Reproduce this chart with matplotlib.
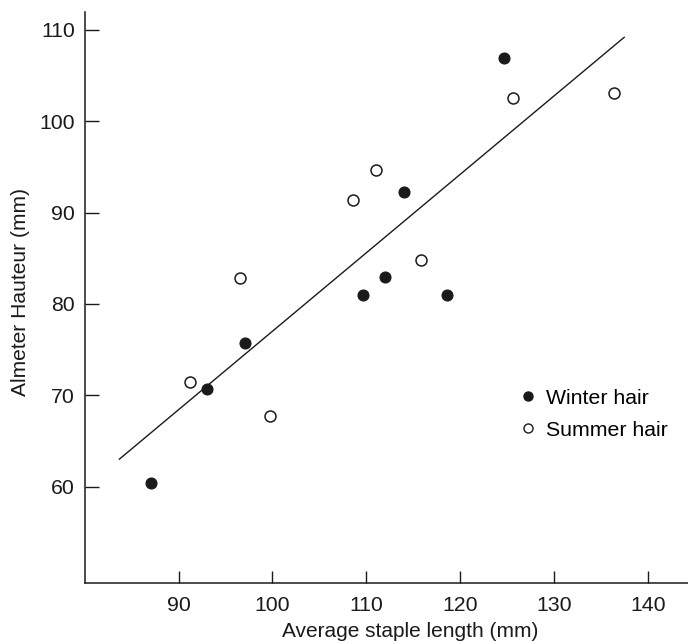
import matplotlib
matplotlib.use("Agg")
import matplotlib.pyplot as plt
from matplotlib.lines import Line2D

plt.rcParams['font.family'] = ['Liberation Sans', 'DejaVu Sans']

winter_x = [87.1, 93.0, 97.1, 109.7, 112.0, 118.6, 114.0, 124.7]
winter_y = [60.4, 70.7, 75.7, 81.0, 82.9, 81.0, 92.3, 106.9]
summer_x = [91.2, 99.7, 96.6, 108.6, 111.1, 115.8, 125.6, 136.4]
summer_y = [71.4, 67.7, 82.8, 91.4, 94.7, 84.8, 102.6, 103.1]
line_x = [83.7, 137.5]
line_y = [63.0, 109.2]
xticks = [90, 100, 110, 120, 130, 140]
yticks = [60, 70, 80, 90, 100, 110]

ink = '#1a1a1a'
fs = 15.3
fig = plt.figure(figsize=(6.88, 6.41), dpi=100)
ax = fig.add_axes([0.1231, 0.09, 0.8769, 0.8917])
ax.set_xlim(80, 144.3)
ax.set_ylim(49.4, 112.0)

ax.plot(line_x, line_y, color=ink, lw=1.0)
ax.plot(winter_x, winter_y, 'o', ms=7.9, mfc=ink, mec=ink, mew=0.8, linestyle='none')
ax.plot(summer_x, summer_y, 'o', ms=7.9, mfc='white', mec=ink, mew=1.1, linestyle='none')

for s in ['top', 'right']:
    ax.spines[s].set_visible(False)
for s in ['left', 'bottom']:
    ax.spines[s].set_linewidth(1.1)
    ax.spines[s].set_color(ink)

ax.set_xticks(xticks)
ax.set_yticks(yticks)
ax.tick_params(axis='y', direction='in', length=10, width=1.0, pad=7, labelsize=fs, colors=ink)
ax.tick_params(axis='x', direction='in', length=9, width=1.0, pad=9, labelsize=fs, colors=ink)

ax.set_xlabel('Average staple length (mm)', fontsize=15.0, color=ink, labelpad=5, x=0.54)
ax.set_ylabel('Almeter Hauteur (mm)', fontsize=15.1, color=ink, labelpad=7, y=0.51)

handles = [
    Line2D([], [], marker='o', linestyle='none', ms=6.5, mfc=ink, mec=ink, label='Winter hair'),
    Line2D([], [], marker='o', linestyle='none', ms=6.5, mfc='white', mec=ink, mew=1.0, label='Summer hair'),
]
ax.legend(handles=handles, loc='center left', bbox_to_anchor=(0.7167, 0.2958), frameon=False,
          fontsize=fs, handletextpad=0.36, handlelength=1.0, labelspacing=0.62,
          borderaxespad=0, borderpad=0)

fig.savefig('out.png', dpi=100)
